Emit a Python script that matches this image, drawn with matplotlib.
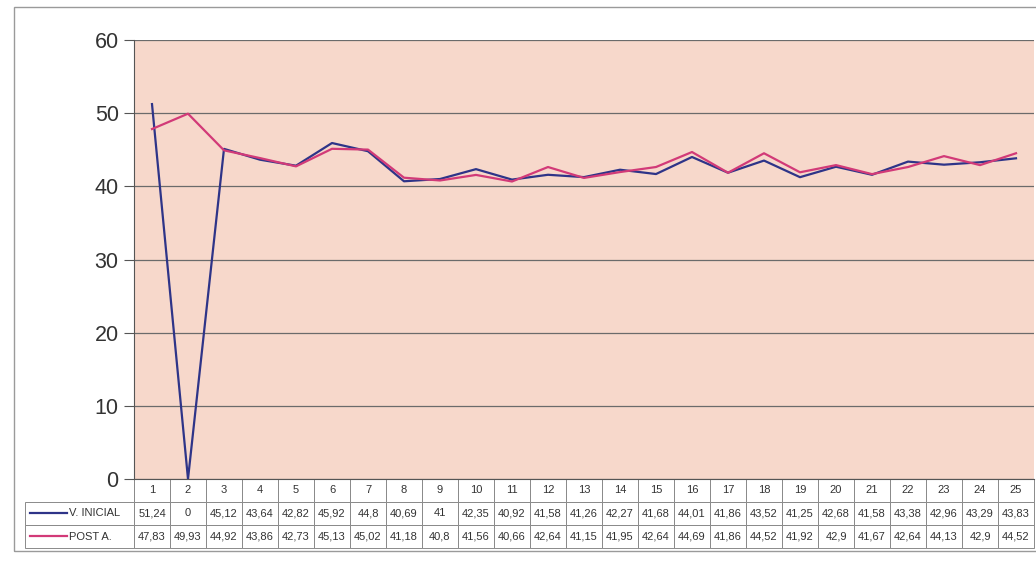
import numpy as np
import matplotlib.pyplot as plt
from matplotlib.lines import Line2D
from matplotlib.patches import Rectangle

plt.rcParams["font.family"] = ["Liberation Sans", "DejaVu Sans"]

categories = [str(i) for i in range(1, 26)]
v_inicial = [51.24, 0, 45.12, 43.64, 42.82, 45.92, 44.8, 40.69, 41, 42.35,
             40.92, 41.58, 41.26, 42.27, 41.68, 44.01, 41.86, 43.52, 41.25, 42.68,
             41.58, 43.38, 42.96, 43.29, 43.83]
post_a = [47.83, 49.93, 44.92, 43.86, 42.73, 45.13, 45.02, 41.18, 40.8, 41.56,
          40.66, 42.64, 41.15, 41.95, 42.64, 44.69, 41.86, 44.52, 41.92, 42.9,
          41.67, 42.64, 44.13, 42.9, 44.52]
series_names = ["V. INICIAL", "POST A."]
yticks = [0, 10, 20, 30, 40, 50, 60]

BLUE = "#2E3488"
PINK = "#D23A78"
BG = "#F7D8CB"

W, H = 1036, 562
fig = plt.figure(figsize=(W / 100, H / 100), dpi=100)
fig.patch.set_facecolor("white")
fig.add_artist(Rectangle((14 / W, 0.02), 1, 0.968, transform=fig.transFigure,
                         fill=False, ec="#9a9a9a", lw=1.0))

left, right, top, bottom = 134, 1034, 40, 479
ax = fig.add_axes([left / W, 1 - bottom / H, (right - left) / W, (bottom - top) / H])
ax.set_facecolor(BG)

x = np.arange(len(categories))
ax.plot(x, v_inicial, color=BLUE, lw=1.6, zorder=3)
ax.plot(x, post_a, color=PINK, lw=1.6, zorder=3)

ax.set_xlim(-0.5, len(categories) - 0.5)
ax.set_ylim(0, 60)
ax.set_yticks(yticks)
ax.set_xticks([])
ax.tick_params(axis="y", labelsize=15.5, length=7, width=0.8, color="#555555",
               labelcolor="#333333", pad=4)
ax.grid(axis="y", color="#6b6b6b", lw=0.9)
ax.set_axisbelow(True)
for s in ["top", "right"]:
    ax.spines[s].set_visible(False)
ax.spines["left"].set_color("#555555")
ax.spines["bottom"].set_color("#555555")

def fmt(v):
    return f"{v:g}".replace(".", ",")

cell_text = [[""] + categories,
             [series_names[0]] + [fmt(v) for v in v_inicial],
             [series_names[1]] + [fmt(v) for v in post_a]]
axh = bottom - top
pw = right - left
lab_w = 109
tbl = ax.table(cellText=cell_text, cellLoc="center",
               colWidths=[lab_w] + [pw / 25] * 25,
               bbox=[-lab_w / pw, -69 / axh, 1 + lab_w / pw, 69 / axh])
tbl.auto_set_font_size(False)
tbl.set_fontsize(8)
for (r, c), cell in tbl.get_celld().items():
    cell.set_edgecolor("#8a8a8a")
    cell.set_linewidth(0.7)
    cell.get_text().set_color("#333333")
    if r == 0 and c == 0:
        cell.visible_edges = "R"
    if c == 0 and r > 0:
        cell.get_text().set_ha("left")
        cell._loc = "left"
        cell.PAD = 0.40

# legend keys inside the row label cells
for i, col in enumerate([BLUE, PINK]):
    yc = 1 - (513 + 23 * i) / H
    fig.add_artist(Line2D([30 / W, 67 / W], [yc, yc], color=col, lw=1.6,
                          transform=fig.transFigure))

fig.savefig("out.png", dpi=100)
